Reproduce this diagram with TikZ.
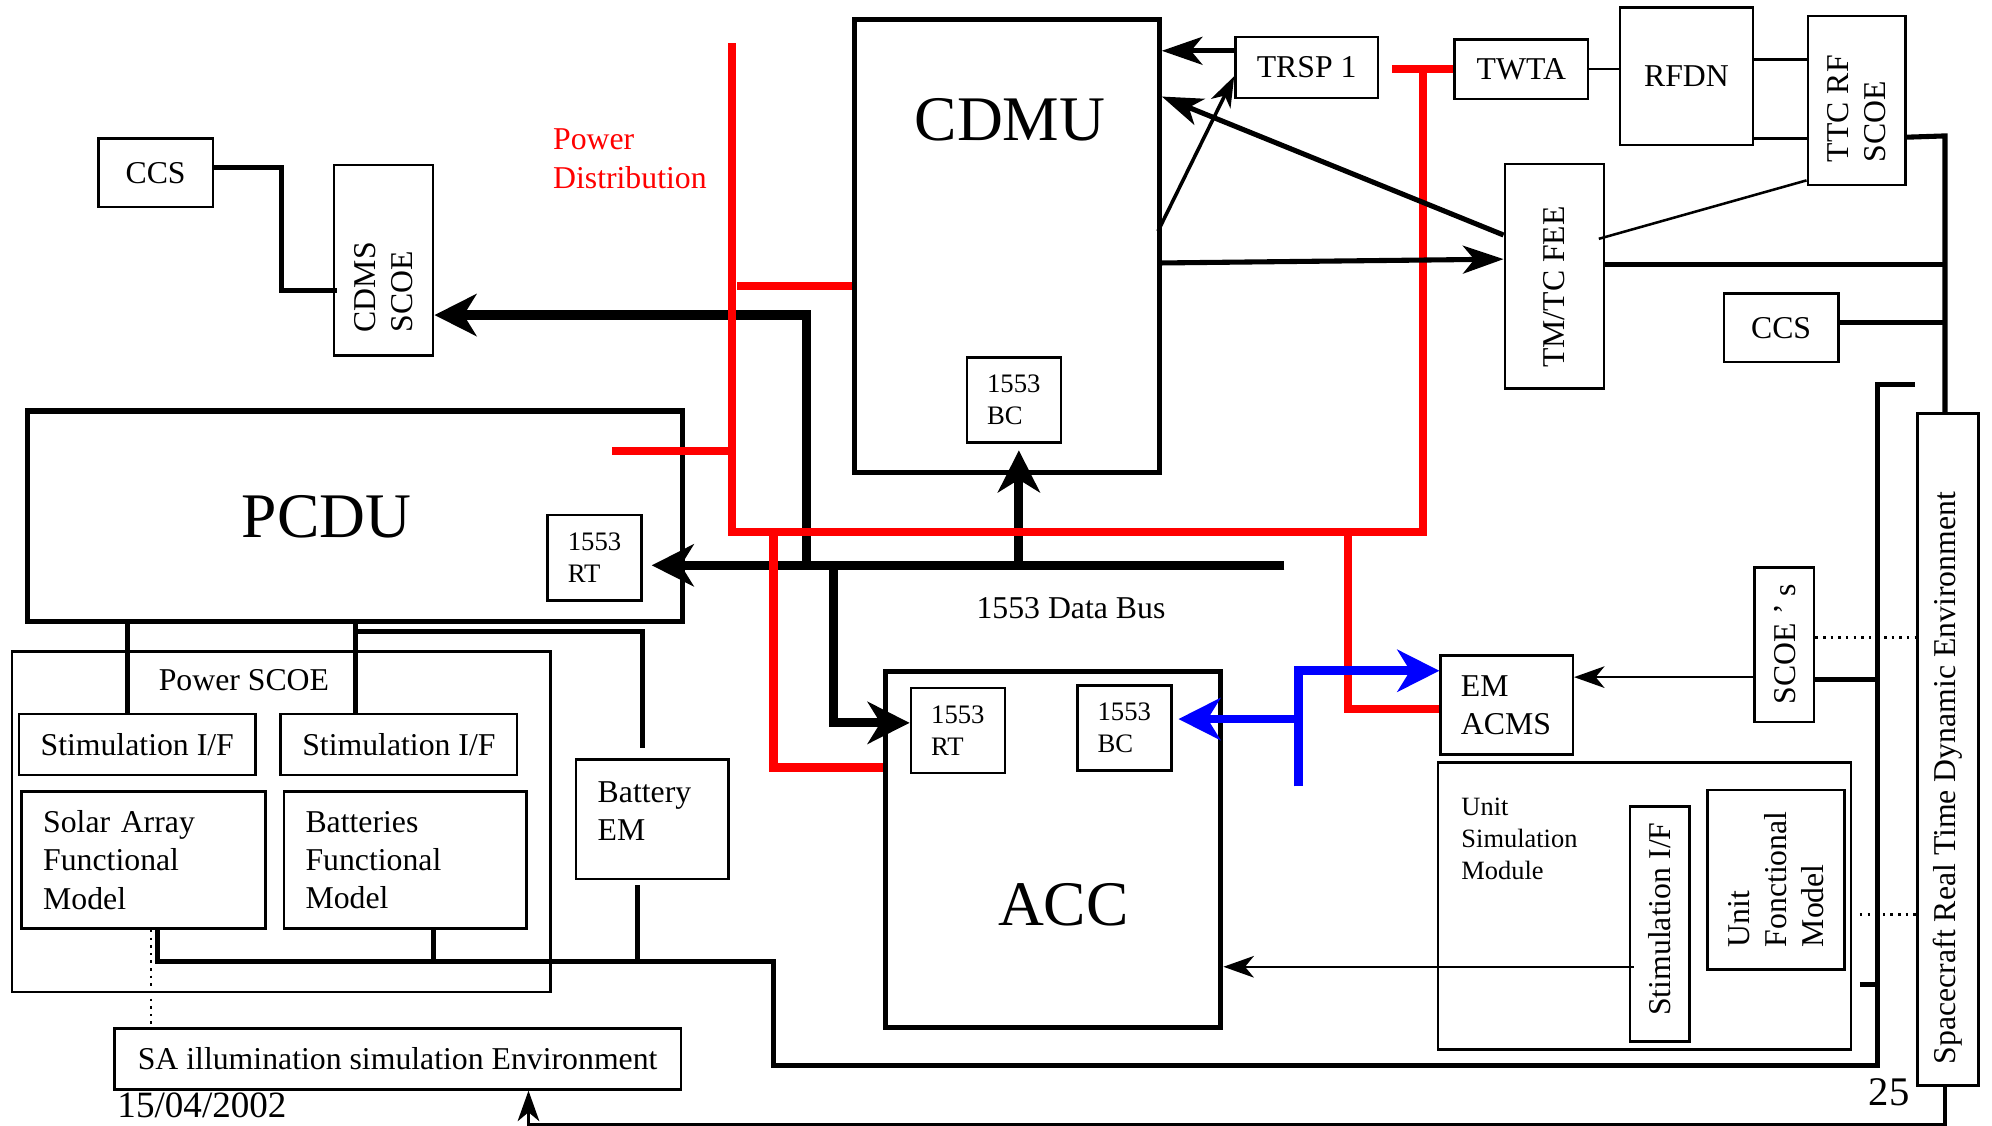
\documentclass[tikz,border=0pt]{standalone}
\usepackage{fontspec}
\setmainfont{Liberation Serif}
\usetikzlibrary{arrows.meta}

\begin{document}
\begin{tikzpicture}[x=0.5pt, y=-0.5pt,
  >={Stealth[length=12pt,width=8.5pt,inset=3.5pt]},
  txt/.style={inner sep=0pt, font=\fontsize{12.5}{15}\selectfont},
  bigtxt/.style={inner sep=0pt, font=\fontsize{25}{30}\selectfont},
  box/.style={draw, line width=1pt, inner sep=0pt, font=\fontsize{12.5}{15}\selectfont},
  unitbox/.style={draw, line width=2pt, inner sep=0pt},
  rtbox/.style={box, align=left, text width=21pt, inner xsep=8pt, minimum height=33.5pt, font=\fontsize{10.5}{12.5}\selectfont},
  vtext/.style={rotate=90, align=left, inner sep=0pt, font=\fontsize{12.5}{14.5}\selectfont},
  bus/.style={line width=3.6pt},
  power/.style={red, line width=3.3pt},
  acms/.style={blue, line width=3.5pt},
  link/.style={line width=2pt},
  thinlink/.style={line width=1pt},
  bigtip/.style={-{Stealth[length=16.5pt,width=16.5pt,inset=5pt]}},
  midtip/.style={-{Stealth[length=16pt,width=11pt,inset=4.5pt]}}]
  \useasboundingbox (0,0) rectangle (1568,886);
  \clip (0,0) rectangle (1568,886);

  % test equipment, top left
  \node[box, minimum width=45pt, minimum height=27pt] (ccsl) at (122.5,136) {CCS};
  \node[box, minimum width=39pt, minimum height=75pt] (cdmsscoe) at (302,205) {};
  \node[vtext, anchor=west] (cdmsscoet) at (302,262) {CDMS\\SCOE};
  \node[txt, anchor=west, align=left, text=red] (pdtxt) at (435,125) {Power\\Distribution};

  % CDMU and RF chain
  \node[unitbox, minimum width=120pt, minimum height=178.5pt] (cdmu) at (792.5,193.5) {};
  \node[bigtxt] (cdmut) at (795,94) {CDMU};
  \node[rtbox] (cdmubc) at (798,315) {1553\\BC};
  \node[box, minimum width=56pt, minimum height=24pt] (trsp) at (1028.5,53) {TRSP 1};
  \node[box, minimum width=52.5pt, minimum height=23.5pt] (twta) at (1197.5,54.5) {TWTA};
  \node[box, minimum width=52.5pt, minimum height=54pt] (rfdn) at (1327.5,60) {RFDN};
  \node[box, minimum width=38.5pt, minimum height=66.5pt] (ttcscoe) at (1461.5,79) {};
  \node[vtext, anchor=west] (ttcscoet) at (1461.5,128) {TTC RF\\SCOE};
  \node[box, minimum width=39pt, minimum height=88.5pt] (tmtcfee) at (1223.5,217.5) {};
  \node[vtext] (tmtcfeet) at (1223,226) {TM/TC FEE};
  \node[box, minimum width=45pt, minimum height=27pt] (ccsr) at (1402,258) {CCS};

  % PCDU and power SCOE
  \node[unitbox, minimum width=258pt, minimum height=83pt] (pcdu) at (279.5,406.5) {};
  \node[bigtxt] (pcdut) at (257,407) {PCDU};
  \node[rtbox] (pcdurt) at (468,439) {1553\\RT};
  \node[box, minimum width=212pt, minimum height=134pt] (pscoe) at (221.5,647) {};
  \node[txt] (pscoet) at (192,535) {Power SCOE};
  \node[box, minimum width=93pt, minimum height=24pt] (stima) at (108,586) {Stimulation I/F};
  \node[box, minimum width=93pt, minimum height=24pt] (stimb) at (314,586) {Stimulation I/F};
  \node[box, align=left, text width=79pt, inner xsep=8.5pt, minimum height=54pt] (safm) at (113,677) {Solar Array\\Functional\\Model};
  \node[box, align=left, text width=78.5pt, inner xsep=8.5pt, minimum height=54pt] (bfm) at (319,677) {Batteries\\Functional\\Model};
  \node[box, align=left, text width=43pt, inner xsep=8.5pt, minimum height=47pt, text depth=21.5pt] (batem) at (513.5,645) {Battery\\EM};
  \node[box, minimum width=223pt, minimum height=24pt] (saenv) at (313,833.5) {SA illumination simulation Environment};
  \node[inner sep=0pt, font=\fontsize{14.6}{17}\selectfont] (date) at (159,870) {15/04/2002};

  % ACC and ACMS
  \node[unitbox, minimum width=132pt, minimum height=140pt] (acc) at (829,668.5) {};
  \node[bigtxt] (acct) at (837,712) {ACC};
  \node[rtbox] (accrt) at (754,575) {1553\\RT};
  \node[rtbox] (accbc) at (885,573) {1553\\BC};
  \node[box, align=left, text width=36pt, inner xsep=8pt, minimum height=39pt] (emacms) at (1186,555) {EM\\ACMS};
  \node[txt] (bust) at (843,479) {1553 Data Bus};

  % simulation environment, right
  \node[box, minimum width=23.5pt, minimum height=61pt] (scoes) at (1404.5,507.5) {};
  \node[vtext] (scoest) at (1405,507) {SCOE ’ s};
  \node[box, minimum width=162.5pt, minimum height=113pt] (usm) at (1294.5,713) {};
  \node[anchor=north west, align=left, inner sep=0pt, font=\fontsize{10.4}{12.5}\selectfont] (usmt) at (1150,628) {Unit\\Simulation\\Module};
  \node[box, minimum width=23.5pt, minimum height=92.5pt] (ustim) at (1306.5,727.5) {};
  \node[vtext] (ustimt) at (1306.5,723.5) {Stimulation I/F};
  \node[box, minimum width=54pt, minimum height=70.5pt] (ufm) at (1398,692.5) {};
  \node[vtext, anchor=west] (ufmt) at (1398,746) {Unit\\Fonctional\\Model};
  \node[box, minimum width=24pt, minimum height=264.5pt] (scenv) at (1533.5,590) {};
  \node[vtext, anchor=west] (scenvt) at (1533.5,838) {Spacecraft Real Time Dynamic Environment};
  \node[inner sep=0pt, font=\fontsize{16}{19}\selectfont] (pagenum) at (1487,860) {25};

  \coordinate (busr) at (1011,445);
  \coordinate (busa) at (635,445);
  \coordinate (busb) at (656,445);
  \coordinate (busc) at (802,445);
  \coordinate (pdtop) at (576,34);
  \coordinate (pdright) at (1120,419);
  \coordinate (pdacc) at (609,419);
  \coordinate (pdacms) at (1061,419);
  \coordinate (acmsv) at (1022,619);
  \coordinate (rbus) at (1531,107);
  \coordinate (lbus) at (1478,303);
  \coordinate (lbusbot) at (1478,839);
  \coordinate (pwmid) at (609,757);
  \coordinate (pwtee) at (280,497);
  \coordinate (envbot) at (1531,885);

  % 1553 data bus
  \draw[bus, bigtip] (busr) -- ([xshift=3.5pt]pcdurt.east |- busr);
  \draw[bus, bigtip] (busa) |- (cdmsscoe.east |- 0,248);
  \draw[bus, bigtip] (busc) -- ([yshift=-2.5pt]cdmubc.south -| busc);
  \draw[bus, bigtip] (busb) |- (accrt.west |- 0,569);

  % power distribution
  \draw[power] (pdtop) |- (pdright) |- (twta.west);
  \draw[power] (twta.west) -- ++(-48,0);
  \draw[power] (cdmu.west |- 0,225) -- ++(-90,0);
  \draw[power] (pdtop |- 0,355) -- ++(-94,0);
  \draw[power] (pdacc) |- (acc.west |- 0,604);
  \draw[power] (pdacms) |- (emacms.west |- 0,558);

  % ACMS links
  \draw[acms, bigtip] (acmsv) |- (emacms.west |- 0,528);
  \draw[acms, bigtip] (acmsv |- 0,566) -- ([xshift=2.3pt]accbc.east |- 0,566);

  % CDMU links
  \draw[link] (ccsl.east |- 0,132) -- ++(53,0) |- ([xshift=1.5pt]cdmsscoe.west |- 0,229);
  \draw[link, midtip] (trsp.west |- 0,40) -- (cdmu.east |- 0,40);
  \draw[line width=1.4pt, ->] ([xshift=-1.5pt]cdmu.east |- 0,182) -- (trsp.west |- 0,60);
  \draw[link, midtip] (tmtcfee.west |- 0,185) -- (cdmu.east |- 0,76);
  \draw[link, midtip] (cdmu.east |- 0,207) -- (tmtcfee.west |- 0,204);
  \draw[thinlink] (twta.east) -- (rfdn.west |- twta.east);
  \draw[thinlink] (rfdn.east |- 0,47) -- (ttcscoe.west |- 0,47);
  \draw[thinlink] (rfdn.east |- 0,109) -- (ttcscoe.west |- 0,109);
  \draw[thinlink] ([xshift=-2.5pt]tmtcfee.east |- 0,188) -- (ttcscoe.west |- 0,142);
  \draw[link] (ttcscoe.east |- 0,108) -- (rbus) -- (rbus |- scenv.north);
  \draw[link] (tmtcfee.east |- 0,208) -- (rbus |- 0,208);
  \draw[link] (ccsr.east |- 0,254) -- (rbus |- 0,254);

  % power SCOE links
  \draw[link] (pcdu.south -| 100,0) -- (stima.north -| 100,0);
  \draw[link] (pcdu.south -| 280,0) -- (stimb.north -| 280,0);
  \draw[link] (pwtee) -| ([yshift=4pt]batem.north -| 506,0);
  \draw[thinlink, dotted] (safm.south -| 119,0) -- (saenv.north -| 119,0);
  \draw[link] ([xshift=14.5pt]lbus) -- (lbus) -- (lbusbot) -| (pwmid) -| (safm.south -| 124,0);
  \draw[link] (bfm.south -| 341,0) |- (pwmid);
  \draw[link] ([yshift=-2pt]batem.south -| 502,0) |- (pwmid);

  % simulation environment links
  \draw[link] (scoes.east |- 0,535) -- (lbus |- 0,535);
  \draw[link] ([xshift=3pt]usm.east |- 0,775) -- (lbus |- 0,775);
  \draw[thinlink, ->] (scoes.west |- 0,533) -- (emacms.east |- 0,533);
  \draw[thinlink, dotted] (scoes.east |- 0,502) -- (scenv.west |- 0,502);
  \draw[thinlink, dotted] ([xshift=3pt]usm.east |- 0,720) -- (scenv.west |- 0,720);
  \draw[thinlink, ->] ([xshift=2pt]ustim.west |- 0,761) -- (acc.east |- 0,761);
  \draw[line width=1.3pt, ->] (scenv.south -| envbot) -- (envbot) -| (saenv.south -| 416,0);
\end{tikzpicture}
\end{document}
